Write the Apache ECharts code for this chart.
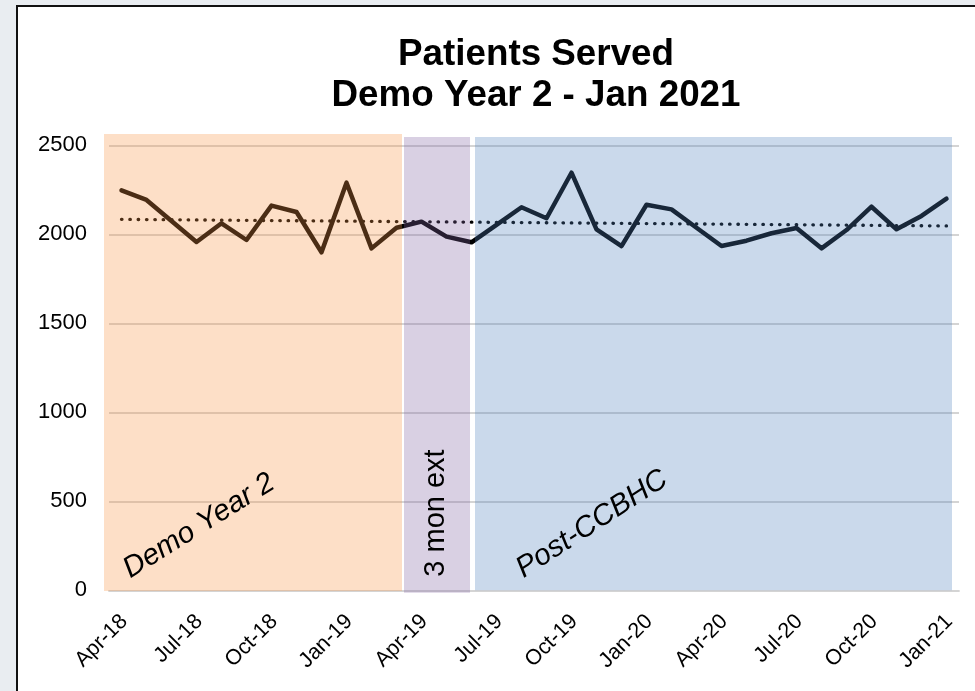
<!DOCTYPE html>
<html>
<head>
<meta charset="utf-8">
<script src="https://cdn.jsdelivr.net/npm/echarts@6/dist/echarts.min.js"></script>
<style>
html,body{margin:0;padding:0;background:#e9edf1;width:975px;height:691px;overflow:hidden;}
#frame{position:absolute;left:16px;top:5px;width:1000px;height:720px;border:2px solid #111;background:#fff;}
#main{position:absolute;left:0;top:0;width:975px;height:691px;}
</style>
</head>
<body>
<div id="frame"></div>
<div id="main"></div>
<script>
// ---- data ----
const months = ['Apr-18','May-18','Jun-18','Jul-18','Aug-18','Sep-18','Oct-18','Nov-18','Dec-18',
  'Jan-19','Feb-19','Mar-19','Apr-19','May-19','Jun-19','Jul-19','Aug-19','Sep-19','Oct-19','Nov-19','Dec-19',
  'Jan-20','Feb-20','Mar-20','Apr-20','May-20','Jun-20','Jul-20','Aug-20','Sep-20','Oct-20','Nov-20','Dec-20',
  'Jan-21'];
const patients = [2247,2193,2075,1957,2062,1968,2161,2125,1899,
  2290,1921,2037,2071,1987,1955,2053,2152,2090,2346,2028,1934,
  2166,2140,2037,1934,1964,2006,2035,1921,2024,2155,2028,2103,
  2200];
const trendStart = 2084;
const trendEnd = 2047;
const yTicks = [0, 500, 1000, 1500, 2000, 2500];
// phase shading bands (in month units along the axis)
const phaseNames = ['Demo Year 2', '3 mon ext', 'Post-CCBHC'];
const phaseStart = [-0.2, 11.8, 14.64];
const phaseEnd = [11.72, 14.44, 33.72];
const phaseLow = [-4, -14, 0];
const phaseHigh = [2563, 2546, 2546];

const phaseColors = ['rgba(247,150,70,0.3)', 'rgba(128,100,162,0.3)', 'rgba(79,129,189,0.3)'];
const FONT = '"Liberation Sans", Arial, sans-serif';

const chart = echarts.init(document.getElementById('main'), null, {renderer: 'canvas'});
const shadeData = phaseNames.map((n, i) => [phaseStart[i], phaseEnd[i], phaseLow[i], phaseHigh[i]]);

chart.setOption({
  animation: false,
  backgroundColor: 'transparent',
  textStyle: {fontFamily: FONT},
  title: {
    text: 'Patients Served\nDemo Year 2 - Jan 2021',
    left: 531, top: 29, textAlign: 'center',
    textStyle: {fontSize: 36.8, fontWeight: 'bold', color: '#000', lineHeight: 41, fontFamily: FONT}
  },
  grid: {left: 109, right: 16, top: 145.3, bottom: 100.7, containLabel: false},
  xAxis: [{
    type: 'category', data: months, boundaryGap: true,
    axisLine: {show: true, lineStyle: {color: '#d4d4d4', width: 1.8}},
    axisTick: {show: false},
    axisLabel: {interval: 2, rotate: 45, fontSize: 21.5, color: '#000', margin: 15,
      align: 'right', verticalAlign: 'top', padding: [0, 7, 0, 0], fontFamily: FONT},
    splitLine: {show: false}
  }, {
    type: 'value', min: 0, max: 34, show: false, gridIndex: 0
  }],
  yAxis: {
    type: 'value', min: yTicks[0], max: yTicks[yTicks.length - 1], interval: 500,
    axisLine: {show: false}, axisTick: {show: false},
    axisLabel: {fontSize: 22, color: '#000', margin: 22, fontFamily: FONT,
      formatter: function (v) { return String(v); }},
    splitLine: {show: true, lineStyle: {color: '#d4d4d4', width: 1.8}}
  },
  series: [{
    type: 'line', name: 'Patients Served', data: patients, xAxisIndex: 0,
    symbol: 'none', z: 2,
    lineStyle: {color: '#000', width: 4.5, join: 'round', cap: 'round'},
    markLine: {
      silent: true, symbol: 'none', z: 5,
      label: {show: false},
      lineStyle: {color: '#000', width: 3.3, type: [0.5, 7.83], cap: 'round'},
      emphasis: {disabled: true},
      data: [[{coord: [months[0], trendStart]}, {coord: [months[months.length - 1], trendEnd]}]]
    }
  }, {
    type: 'custom', name: 'phases', xAxisIndex: 1, yAxisIndex: 0,
    z: 10, clip: false, silent: true,
    data: shadeData,
    encode: {x: [0, 1], y: [2, 3]},
    renderItem: function (params, api) {
      const p0 = api.coord([api.value(0), api.value(3)]);
      const p1 = api.coord([api.value(1), api.value(2)]);
      return {
        type: 'rect',
        shape: {x: p0[0], y: p0[1], width: p1[0] - p0[0], height: p1[1] - p0[1]},
        style: {fill: phaseColors[params.dataIndex]}
      };
    }
  }],
  graphic: [
    {type: 'text', x: 199, y: 526, rotation: 32 * Math.PI / 180, z: 100,
     style: {text: phaseNames[0], fontSize: 29.5, fontStyle: 'italic', fontFamily: FONT, fill: '#000', align: 'center', verticalAlign: 'middle'}},
    {type: 'text', x: 436, y: 513, rotation: Math.PI / 2, z: 100,
     style: {text: phaseNames[1], fontSize: 29, fontFamily: FONT, fill: '#000', align: 'center', verticalAlign: 'middle'}},
    {type: 'text', x: 592, y: 524, rotation: 33 * Math.PI / 180, z: 100,
     style: {text: phaseNames[2], fontSize: 29.5, fontStyle: 'italic', fontFamily: FONT, fill: '#000', align: 'center', verticalAlign: 'middle'}}
  ]
});
</script>
</body>
</html>
